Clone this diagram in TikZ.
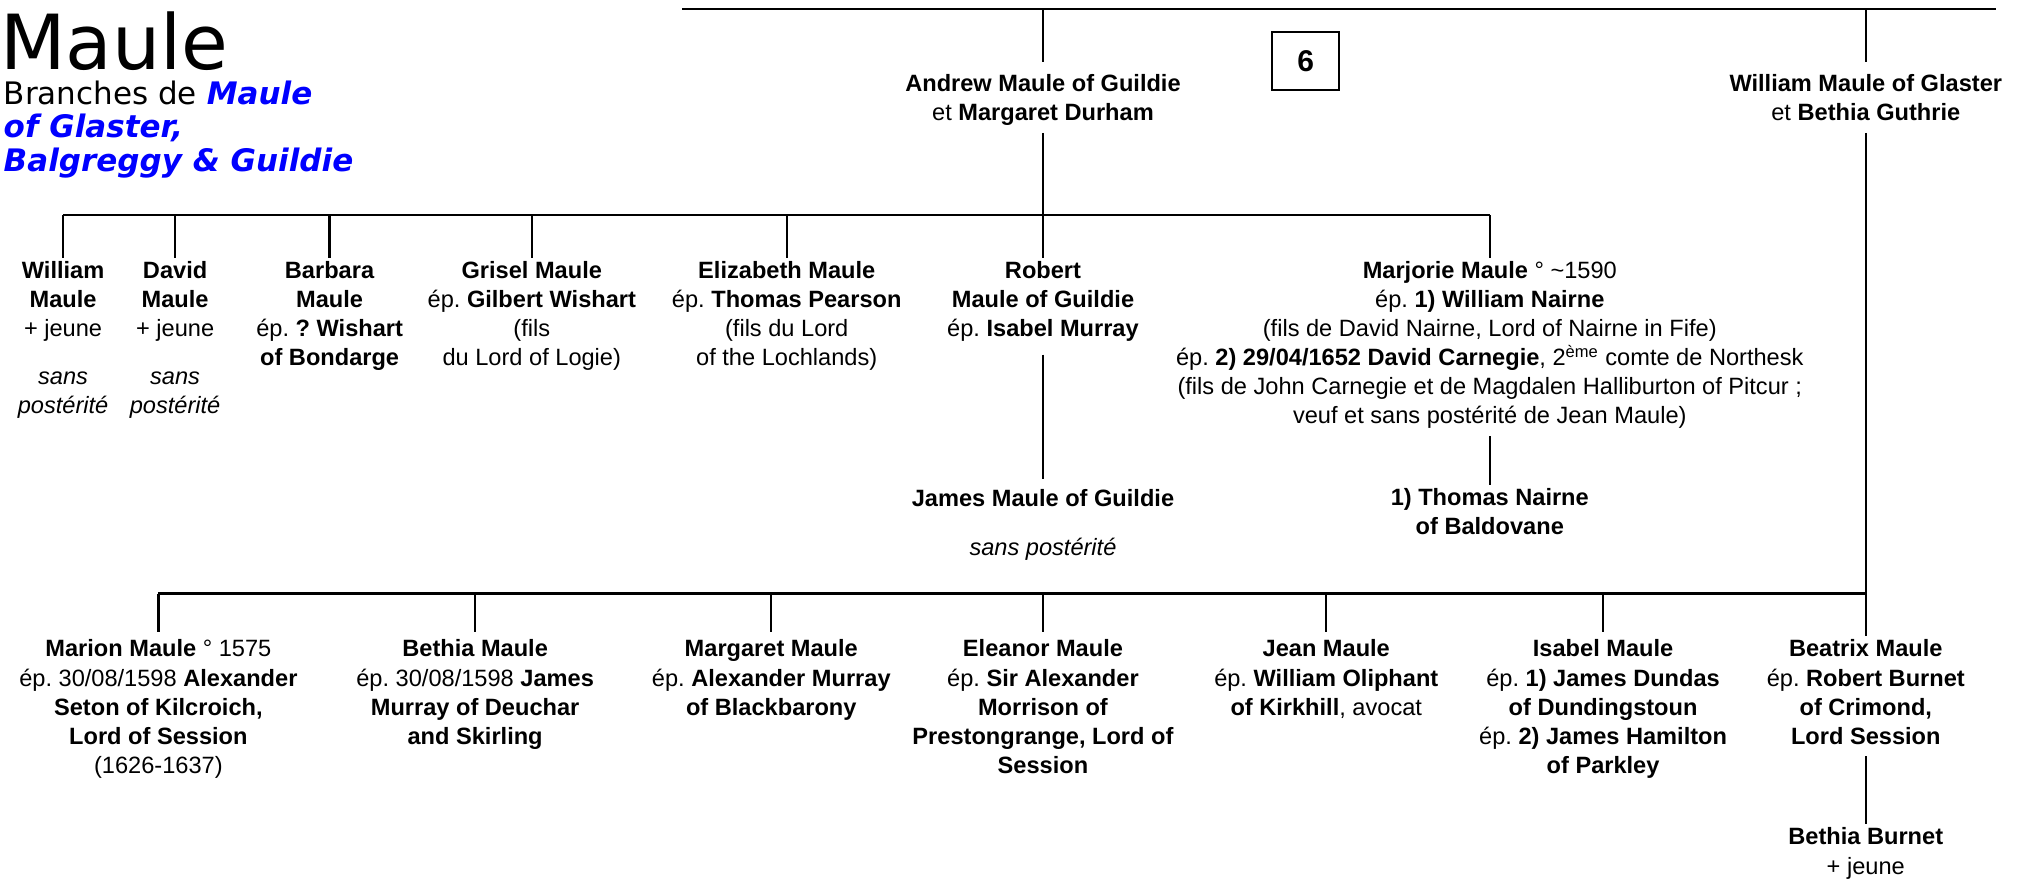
\documentclass[tikz,border=0pt]{standalone}
\usepackage{fontspec}
\setmainfont{Liberation Sans}
\newfontfamily\titlefont{DejaVu Sans}
\frenchspacing

\begin{document}
\begin{tikzpicture}[x=64.38pt, y=64.38pt, every node/.style={inner sep=0pt},
  person/.style={align=center, anchor=north, inner sep=1.5pt, font=\fontsize{11.8}{14.55}\selectfont,
    execute at begin node=\strut, execute at end node=\strut},
  link/.style={line width=1.2pt},
  bar/.style={line width=1.4pt}]
\useasboundingbox (0,0) rectangle (15.68,6.85);

% Title
\node[anchor=base west, font=\titlefont\fontsize{38}{40}\selectfont] (title) at (0,6.31) {Maule};
\node[anchor=north west, align=left, font=\titlefont\fontsize{15.5}{16.7}\selectfont,
  execute at begin node=\strut] (subtitle) at (0.026,6.225)
  {Branches de \textcolor{blue}{\textbf{\textit{Maule}}}\\
   \textcolor{blue}{\textbf{\textit{of Glaster,}}}\\
   \textcolor{blue}{\textbf{\textit{Balgreggy \& Guildie}}}};

% Table number
\node[draw, line width=1pt, minimum width=33.5pt, minimum height=29pt,
  font=\bfseries\fontsize{15}{18}\selectfont] (num) at (10.14,6.375) {6};

% Parents
\node[person] (andrew) at (8.10,6.297) {\textbf{Andrew Maule of Guildie}\\et \textbf{Margaret Durham}};
\node[person] (glaster) at (14.49,6.297) {\textbf{William Maule of Glaster}\\et \textbf{Bethia Guthrie}};

% Children of Andrew
\node[person] (william) at (0.49,4.847) {\textbf{William}\\\textbf{Maule}\\+ jeune\\[9.25pt]\textit{sans}\\\textit{postérité}};
\node[person] (david) at (1.36,4.847) {\textbf{David}\\\textbf{Maule}\\+ jeune\\[9.25pt]\textit{sans}\\\textit{postérité}};
\node[person] (barbara) at (2.56,4.847) {\textbf{Barbara}\\\textbf{Maule}\\ép. \textbf{? Wishart}\\\textbf{of Bondarge}};
\node[person] (grisel) at (4.13,4.847) {\textbf{Grisel Maule}\\ép. \textbf{Gilbert Wishart}\\(fils\\du Lord of Logie)};
\node[person] (elizabeth) at (6.11,4.847) {\textbf{Elizabeth Maule}\\ép. \textbf{Thomas Pearson}\\(fils du Lord\\of the Lochlands)};
\node[person] (robert) at (8.10,4.847) {\textbf{Robert}\\\textbf{Maule of Guildie}\\ép. \textbf{Isabel Murray}};
\node[person] (marjorie) at (11.57,4.847) {\textbf{Marjorie Maule} ° \textasciitilde1590\\
  ép. \textbf{1) William Nairne}\\
  (fils de David Nairne, Lord of Nairne in Fife)\\
  ép. \textbf{2) 29/04/1652 David Carnegie}, 2\textsuperscript{ème} comte de Northesk\\
  (fils de John Carnegie et de Magdalen Halliburton of Pitcur ;\\
  veuf et sans postérité de Jean Maule)};

% Grandchildren
\node[person] (james) at (8.10,3.077) {\textbf{James Maule of Guildie}\\[9.9pt]\textit{sans postérité}};
\node[person] (thomas) at (11.57,3.087) {\textbf{1) Thomas Nairne}\\\textbf{of Baldovane}};

% Children of William
\node[person] (marion) at (1.23,1.907) {\textbf{Marion Maule} ° 1575\\ép. 30/08/1598 \textbf{Alexander}\\\textbf{Seton of Kilcroich,}\\\textbf{Lord of Session}\\(1626-1637)};
\node[person] (bethia) at (3.69,1.907) {\textbf{Bethia Maule}\\ép. 30/08/1598 \textbf{James}\\\textbf{Murray of Deuchar}\\\textbf{and Skirling}};
\node[person] (margaret) at (5.99,1.907) {\textbf{Margaret Maule}\\ép. \textbf{Alexander Murray}\\\textbf{of Blackbarony}};
\node[person] (eleanor) at (8.10,1.907) {\textbf{Eleanor Maule}\\ép. \textbf{Sir Alexander}\\\textbf{Morrison of}\\\textbf{Prestongrange, Lord of}\\\textbf{Session}};
\node[person] (jean) at (10.30,1.907) {\textbf{Jean Maule}\\ép. \textbf{William Oliphant}\\\textbf{of Kirkhill}, avocat};
\node[person] (isabel) at (12.45,1.907) {\textbf{Isabel Maule}\\ép. \textbf{1) James Dundas}\\\textbf{of Dundingstoun}\\ép. \textbf{2) James Hamilton}\\\textbf{of Parkley}};
\node[person] (beatrix) at (14.49,1.907) {\textbf{Beatrix Maule}\\ép. \textbf{Robert Burnet}\\\textbf{of Crimond,}\\\textbf{Lord Session}};
\node[person] (burnet) at (14.49,0.447) {\textbf{Bethia Burnet}\\+ jeune};

% Top line
\coordinate (topL) at (5.30,6.78);
\coordinate (topR) at (15.50,6.78);
\draw[bar] (topL) -- (topR);
\draw[link] (andrew.north |- topL) -- ([yshift=4.7pt]andrew.north);
\draw[link] (glaster.north |- topL) -- ([yshift=4.7pt]glaster.north);

% Lines to the children of Andrew
\coordinate (rowA) at (0,5.18);
\draw[bar] (william.north |- rowA) -- (marjorie.north |- rowA);
\draw[link] (andrew.south) -- (robert.north);
\draw[link] (william.north |- rowA) -- (william.north);
\draw[link] (david.north |- rowA) -- (david.north);
\draw[link] (barbara.north |- rowA) -- (barbara.north);
\draw[link] (grisel.north |- rowA) -- (grisel.north);
\draw[link] (elizabeth.north |- rowA) -- (elizabeth.north);
\draw[link] (marjorie.north |- rowA) -- (marjorie.north);
\draw[link] ([yshift=-2.9pt]robert.south) -- ([yshift=3.4pt]james.north);
\draw[link] (marjorie.south) -- (thomas.north);

% Lines to the children of William
\coordinate (rowB) at (0,2.24);
\draw[bar] (marion.north |- rowB) -- (beatrix.north |- rowB);
\draw[link] (glaster.south) -- (beatrix.north);
\draw[link] (marion.north |- rowB) -- ([yshift=2pt]marion.north);
\draw[link] (bethia.north |- rowB) -- ([yshift=2pt]bethia.north);
\draw[link] (margaret.north |- rowB) -- ([yshift=2pt]margaret.north);
\draw[link] (eleanor.north |- rowB) -- ([yshift=2pt]eleanor.north);
\draw[link] (jean.north |- rowB) -- ([yshift=2pt]jean.north);
\draw[link] (isabel.north |- rowB) -- ([yshift=2pt]isabel.north);
\draw[link] (beatrix.south) -- (burnet.north);

\end{tikzpicture}
\end{document}
